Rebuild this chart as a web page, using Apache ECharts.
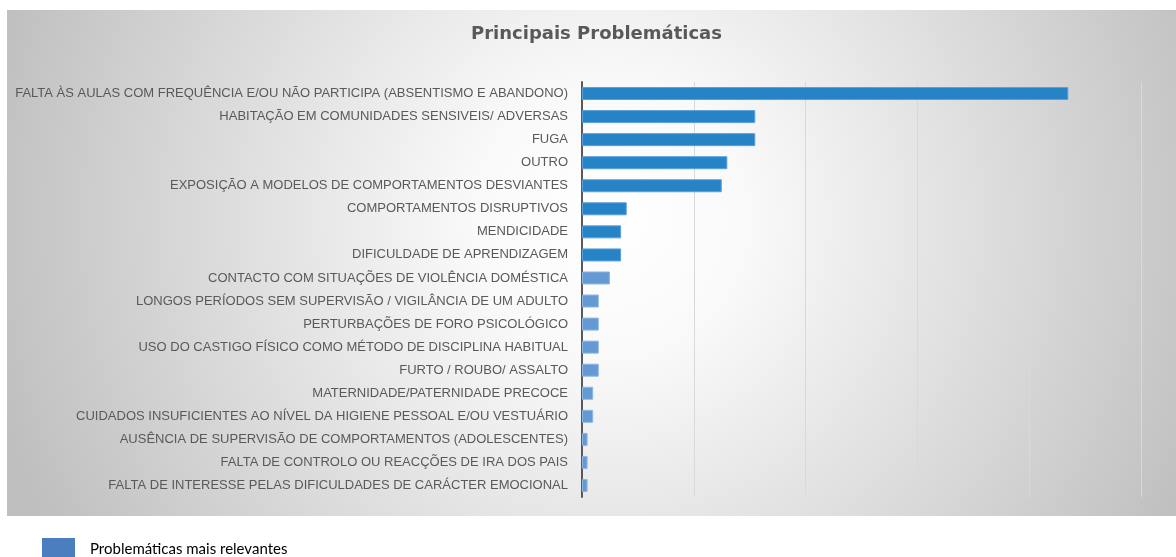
<!DOCTYPE html>
<html>
<head>
<meta charset="utf-8">
<script src="https://cdn.jsdelivr.net/npm/echarts@6/dist/echarts.min.js"></script>
<style>
  html, body { margin: 0; padding: 0; background: #fff; }
  #chart { width: 1176px; height: 557px; }
</style>
</head>
<body>
<div id="chart"></div>
<script>
    // categorias (de cima para baixo)
    var categories = [
        'FALTA ÀS AULAS COM FREQUÊNCIA E/OU NÃO PARTICIPA (ABSENTISMO E ABANDONO)',
        'HABITAÇÃO EM COMUNIDADES SENSIVEIS/ ADVERSAS',
        'FUGA',
        'OUTRO',
        'EXPOSIÇÃO A MODELOS DE COMPORTAMENTOS DESVIANTES',
        'COMPORTAMENTOS DISRUPTIVOS',
        'MENDICIDADE',
        'DIFICULDADE DE APRENDIZAGEM',
        'CONTACTO COM SITUAÇÕES DE VIOLÊNCIA DOMÉSTICA',
        'LONGOS PERÍODOS SEM SUPERVISÃO / VIGILÂNCIA DE UM ADULTO',
        'PERTURBAÇÕES DE FORO PSICOLÓGICO',
        'USO DO CASTIGO FÍSICO COMO MÉTODO DE DISCIPLINA HABITUAL',
        'FURTO / ROUBO/ ASSALTO',
        'MATERNIDADE/PATERNIDADE PRECOCE',
        'CUIDADOS INSUFICIENTES AO NÍVEL DA HIGIENE PESSOAL E/OU VESTUÁRIO',
        'AUSÊNCIA DE SUPERVISÃO DE COMPORTAMENTOS (ADOLESCENTES)',
        'FALTA DE CONTROLO OU REACÇÕES DE IRA DOS PAIS',
        'FALTA DE INTERESSE PELAS DIFICULDADES DE CARÁCTER EMOCIONAL'
    ];
    var values = [87, 31, 31, 26, 25, 8, 7, 7, 5, 3, 3, 3, 3, 2, 2, 1, 1, 1];
    var relevantCount = 8; // as primeiras 8 a azul escuro
    var seriesName = 'Problemáticas mais relevantes';

    var darkStyle = { color: '#2683c6', borderColor: '#5ba0dc', borderWidth: 1 };
    var lightStyle = { color: '#6499d4', borderColor: '#8db7e2', borderWidth: 1 };

    var option = {
        backgroundColor: '#fff',
        animation: false,
        graphic: [{
            type: 'rect',
            z: -10,
            shape: { x: 7, y: 10, width: 1169, height: 506 },
            style: {
                fill: new echarts.graphic.RadialGradient(610, 220, 640, [
                    { offset: 0, color: '#ffffff' },
                    { offset: 0.22, color: '#f9f9f9' },
                    { offset: 1, color: '#bfbfbf' }
                ], true)
            },
            silent: true
        }],
        title: {
            text: 'Principais Problemáticas',
            left: 471,
            top: 25,
            padding: 0,
            textStyle: {
                fontFamily: 'DejaVu Sans',
                fontSize: 18,
                fontWeight: 'bold',
                color: '#595959'
            }
        },
        legend: {
            left: 42,
            top: 538,
            padding: 0,
            itemWidth: 33,
            itemHeight: 22,
            icon: 'rect',
            data: [{ name: seriesName, itemStyle: { color: '#4a7ebf', borderWidth: 0 } }],
            textStyle: {
                fontFamily: 'Lato',
                fontSize: 15,
                color: '#000',
                padding: [0, 0, 0, 10]
            }
        },
        grid: {
            left: 582,
            right: 35,
            top: 82,
            bottom: 60
        },
        xAxis: {
            type: 'value',
            min: 0,
            max: 100,
            interval: 20,
            axisLabel: { show: false },
            axisLine: { show: false },
            axisTick: { show: false },
            splitLine: { lineStyle: { color: '#d9d9d9', width: 1 } }
        },
        yAxis: {
            type: 'category',
            inverse: true,
            data: categories,
            axisTick: { show: false },
            axisLine: { lineStyle: { color: '#595959', width: 2 } },
            axisLabel: {
                margin: 14,
                interval: 0,
                fontFamily: 'Liberation Sans',
                fontSize: 13,
                color: '#595959'
            }
        },
        series: [{
            name: seriesName,
            type: 'bar',
            barWidth: 13,
            itemStyle: { color: '#4a7ebf' },
            data: values.map(function (v, i) {
                return { value: v, itemStyle: i < relevantCount ? darkStyle : lightStyle };
            })
        }]
    };
    var chart = echarts.init(document.getElementById('chart'));
    chart.setOption(option);
    window.addEventListener('resize', function () {
        chart.resize();
    });
</script>
</body>
</html>
